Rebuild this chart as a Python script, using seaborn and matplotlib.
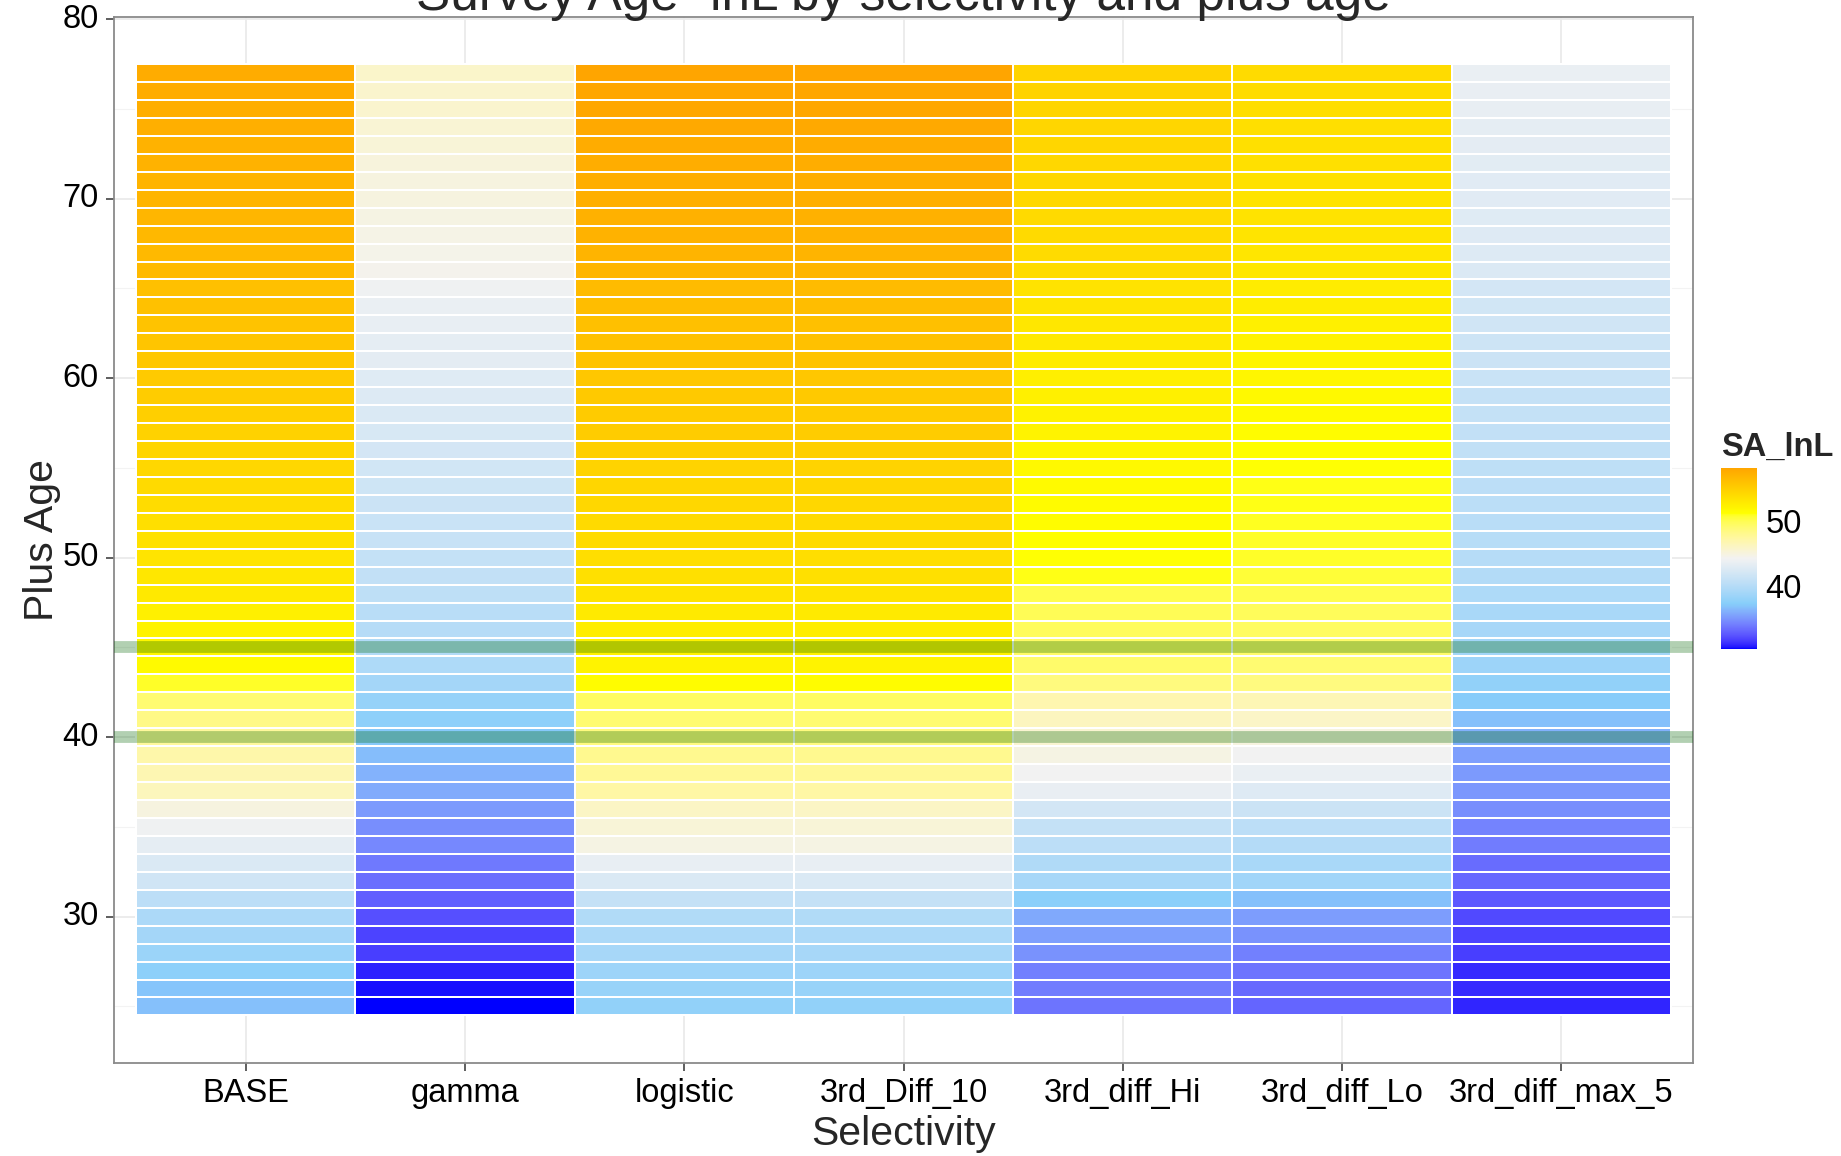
import numpy as np
import pandas as pd
import matplotlib
matplotlib.use("Agg")
import matplotlib.pyplot as plt
from matplotlib.colors import ListedColormap, to_rgb
import seaborn as sns

# ---- data: survey-age negative log-likelihood by selectivity and plus age ----
selectivity = ["BASE", "gamma", "logistic", "3rd_Diff_10",
               "3rd_diff_Hi", "3rd_diff_Lo", "3rd_diff_max_5"]

plus_age = list(range(77, 24, -1))  # 77 down to 25

base_lnl = [57.5, 57.5, 57.3, 57.2, 57.0, 57.0, 56.9, 56.8, 56.7, 56.6, 56.5, 56.4,
            56.0, 55.9, 55.7, 55.6, 55.4, 55.2, 55.0, 54.8, 54.6, 54.4, 54.2, 54.0,
            53.8, 53.6, 53.4,
            53.2, 53.0, 52.8, 52.3, 52.0, 51.8, 51.5, 50.8, 49.0, 48.3, 47.5, 47.0,
            46.7, 46.3, 45.0, 44.0, 43.3, 42.5, 41.8, 40.5, 39.5, 39.0, 38.5, 37.7,
            37.0, 36.8]
gamma_lnl = [45.8, 45.7, 45.6, 45.4, 45.3, 45.1, 45.0, 45.0, 44.8, 44.7, 44.6, 44.5,
             44.0, 43.7, 43.5, 43.3, 43.2, 42.9, 42.7, 42.5, 42.3, 42.1, 41.9, 41.7,
             41.5, 41.3, 41.2,
             41.0, 40.9, 40.6, 40.3, 40.1, 39.8, 39.6, 39.0, 38.2, 37.8, 37.2, 36.7,
             36.3, 36.0, 35.3, 34.8, 34.6, 34.0, 33.6, 33.0, 32.4, 32.0, 31.8, 31.0,
             30.7, 30.5]
logistic_lnl = [58.0, 57.9, 57.8, 57.7, 57.5, 57.4, 57.3, 57.2, 57.1, 57.0, 56.9, 56.8,
                56.3, 56.2, 56.0, 55.9, 55.7, 55.4, 55.3, 55.1, 55.0, 54.8, 54.5, 54.3,
                54.2, 54.0, 53.9,
                53.7, 53.5, 53.3, 52.7, 52.5, 52.2, 52.0, 51.3, 49.5, 49.0, 48.5, 48.0,
                47.7, 47.2, 46.0, 45.3, 44.8, 43.5, 42.5, 41.0, 39.8, 39.5, 39.2, 38.6,
                38.3, 38.0]
diff3_10_lnl = [58.0, 57.9, 57.8, 57.7, 57.5, 57.4, 57.3, 57.2, 57.1, 57.0, 56.9, 56.8,
                56.3, 56.2, 56.0, 55.9, 55.7, 55.4, 55.3, 55.1, 55.0, 54.8, 54.5, 54.3,
                54.2, 54.0, 53.9,
                53.7, 53.5, 53.3, 52.7, 52.5, 52.2, 52.0, 51.3, 49.5, 49.0, 48.5, 48.0,
                47.7, 47.2, 46.0, 45.3, 44.8, 43.5, 42.5, 41.0, 39.8, 39.5, 39.2, 38.6,
                38.3, 38.0]
diff3_hi_lnl = [54.5, 54.5, 54.4, 54.3, 54.3, 54.2, 54.2, 54.1, 54.0, 54.0, 53.9, 53.8,
                53.3, 53.2, 53.0, 52.8, 52.6, 52.4, 52.3, 52.1, 52.0, 51.8, 51.6, 51.5,
                51.4, 51.3, 51.2,
                51.1, 51.0, 50.0, 49.8, 49.6, 49.4, 49.2, 48.6, 46.8, 46.2, 45.5, 44.8,
                44.2, 43.6, 42.0, 41.0, 40.5, 39.7, 39.2, 37.6, 35.9, 35.5, 35.0, 34.3,
                34.1, 33.8]
diff3_lo_lnl = [53.9, 53.8, 53.7, 53.6, 53.5, 53.5, 53.4, 53.3, 53.3, 53.2, 53.1, 53.0,
                52.6, 52.5, 52.3, 52.1, 51.9, 51.8, 51.6, 51.5, 51.3, 51.2, 51.1, 51.0,
                51.0, 50.9, 50.8,
                50.8, 50.5, 50.0, 49.7, 49.5, 49.2, 49.0, 48.5, 46.6, 45.9, 45.0, 44.2,
                43.7, 42.8, 41.5, 40.5, 40.0, 39.3, 38.8, 36.8, 35.4, 35.0, 34.3, 33.8,
                33.4, 33.2]
diff3_max5_lnl = [43.7, 43.6, 43.5, 43.3, 43.2, 43.1, 43.0, 43.0, 42.9, 42.8, 42.7, 42.6,
                  42.0, 41.9, 41.8, 41.6, 41.5, 41.3, 41.1, 41.0, 40.9, 40.8, 40.6, 40.5,
                  40.4, 40.3, 40.2,
                  40.1, 39.9, 39.6, 39.3, 39.2, 38.9, 38.6, 38.0, 37.3, 36.8, 36.2, 35.5,
                  35.3, 35.2, 34.8, 34.4, 34.1, 33.5, 33.3, 32.8, 32.2, 32.0, 31.8, 31.2,
                  31.2, 31.1]

ref_ages = [40, 45]
y_major = [30, 40, 50, 60, 70, 80]
y_minor = [25, 35, 45, 55, 65, 75]
cbar_ticks = [40, 50]

sa_lnl = pd.DataFrame(
    {name: vals for name, vals in zip(
        selectivity,
        [base_lnl, gamma_lnl, logistic_lnl, diff3_10_lnl,
         diff3_hi_lnl, diff3_lo_lnl, diff3_max5_lnl])},
    index=plus_age)


# ---- colour scale: blue -> lightskyblue -> grey95 -> yellow -> orange, Lab-interpolated ----
def _srgb_to_lab(rgb):
    rgb = np.asarray(rgb, float)
    lin = np.where(rgb <= 0.04045, rgb / 12.92, ((rgb + 0.055) / 1.055) ** 2.4)
    m = np.array([[0.4124564, 0.3575761, 0.1804375],
                  [0.2126729, 0.7151522, 0.0721750],
                  [0.0193339, 0.1191920, 0.9503041]])
    xyz = lin @ m.T / np.array([0.95047, 1.0, 1.08883])
    f = np.where(xyz > 0.008856, np.cbrt(xyz), 7.787 * xyz + 16 / 116)
    return np.stack([116 * f[..., 1] - 16,
                     500 * (f[..., 0] - f[..., 1]),
                     200 * (f[..., 1] - f[..., 2])], axis=-1)


def _lab_to_srgb(lab):
    lab = np.asarray(lab, float)
    fy = (lab[..., 0] + 16) / 116
    fx = fy + lab[..., 1] / 500
    fz = fy - lab[..., 2] / 200
    f = np.stack([fx, fy, fz], axis=-1)
    xyz = np.where(f ** 3 > 0.008856, f ** 3, (f - 16 / 116) / 7.787)
    xyz = xyz * np.array([0.95047, 1.0, 1.08883])
    minv = np.array([[3.2404542, -1.5371385, -0.4985314],
                     [-0.9692660, 1.8760108, 0.0415560],
                     [0.0556434, -0.2040259, 1.0572252]])
    lin = np.clip(xyz @ minv.T, 0, 1)
    rgb = np.where(lin <= 0.0031308, 12.92 * lin, 1.055 * lin ** (1 / 2.4) - 0.055)
    return np.clip(rgb, 0, 1)


anchor_colours = ["#0000FF", "#87CEFA", "#F2F2F2", "#FFFF00", "#FFA500"]
anchor_lab = _srgb_to_lab([to_rgb(c) for c in anchor_colours])
pos = np.linspace(0, 1, 512)
seg = np.linspace(0, 1, len(anchor_colours))
lab_interp = np.stack([np.interp(pos, seg, anchor_lab[:, k]) for k in range(3)], axis=-1)
lnl_cmap = ListedColormap(_lab_to_srgb(lab_interp))

# ---- figure ----
sns.set_theme(style="white")
plt.rcParams["font.family"] = ["Liberation Sans", "DejaVu Sans"]

W, H = 1841, 1156
fig = plt.figure(figsize=(W / 100, H / 100), dpi=100)
ax = fig.add_axes([114 / W, 1 - 1063 / H, (1693 - 114) / W, (1063 - 16.5) / H])
cax = fig.add_axes([1721 / W, 1 - 649 / H, 36 / W, 181 / H])

vmin = float(sa_lnl.values.min())
vmax = float(sa_lnl.values.max())
sns.heatmap(sa_lnl, ax=ax, cbar_ax=cax, cmap=lnl_cmap, vmin=vmin, vmax=vmax,
            linewidths=1.3, linecolor="white")


def row_pos(age):
    """Map a plus-age value onto the heatmap's row coordinate."""
    return plus_age[0] + 0.5 - age


# continuous-looking age axis with ggplot-style padding
age_lo, age_hi = plus_age[-1] - 0.5, plus_age[0] + 0.5
pad = 0.05 * (age_hi - age_lo)
ax.set_ylim(row_pos(age_lo - pad), row_pos(age_hi + pad))
ax.set_xlim(-0.1, len(selectivity) + 0.1)

ax.set_yticks([row_pos(a) for a in y_major])
ax.set_yticklabels([str(a) for a in y_major], rotation=0)
ax.set_yticks([row_pos(a) for a in y_minor], minor=True)
ax.set_xticks(np.arange(len(selectivity)) + 0.5)
ax.set_xticklabels(selectivity, rotation=0)

ax.set_axisbelow(True)
ax.grid(which="major", color="#EBEBEB", linewidth=1.3)
ax.grid(which="minor", axis="y", color="#F3F3F3", linewidth=0.8)

for spine in ax.spines.values():
    spine.set_visible(True)
    spine.set_color("#8A8A8A")
    spine.set_linewidth(1.3)

ax.tick_params(which="major", direction="out", length=6, width=1.1, color="#333333",
               labelsize=23.5, labelcolor="black", pad=5, left=True, bottom=True)
ax.tick_params(which="minor", length=0)

for age in ref_ages:
    ax.axhline(row_pos(age), color="darkgreen", alpha=0.3, linewidth=8.5, zorder=3)

ax.set_xlabel("Selectivity", fontsize=29.5, labelpad=4)
ax.set_ylabel("Plus Age", fontsize=29.5, labelpad=1)

# colourbar styled like a ggplot guide
cbar = ax.collections[0].colorbar
cbar.set_ticks(cbar_ticks)
cbar.set_ticklabels([str(t) for t in cbar_ticks])
cbar.outline.set_visible(False)
cax.yaxis.set_ticks_position("both")
cax.tick_params(axis="y", direction="in", length=5.5, width=1.1, color="white",
                labelsize=23.5, labelcolor="black", labelleft=False, labelright=True,
                pad=6)

fig.text(1721 / W, 1 - 447 / H, "SA_lnL", fontsize=23.5, fontweight="bold",
         ha="left", va="center")
fig.text((114 + 1693) / 2 / W, 1 - 10 / H, "Survey Age -lnL by selectivity and plus age",
         fontsize=37, ha="center", va="baseline")

fig.savefig("out.png", dpi=100)
